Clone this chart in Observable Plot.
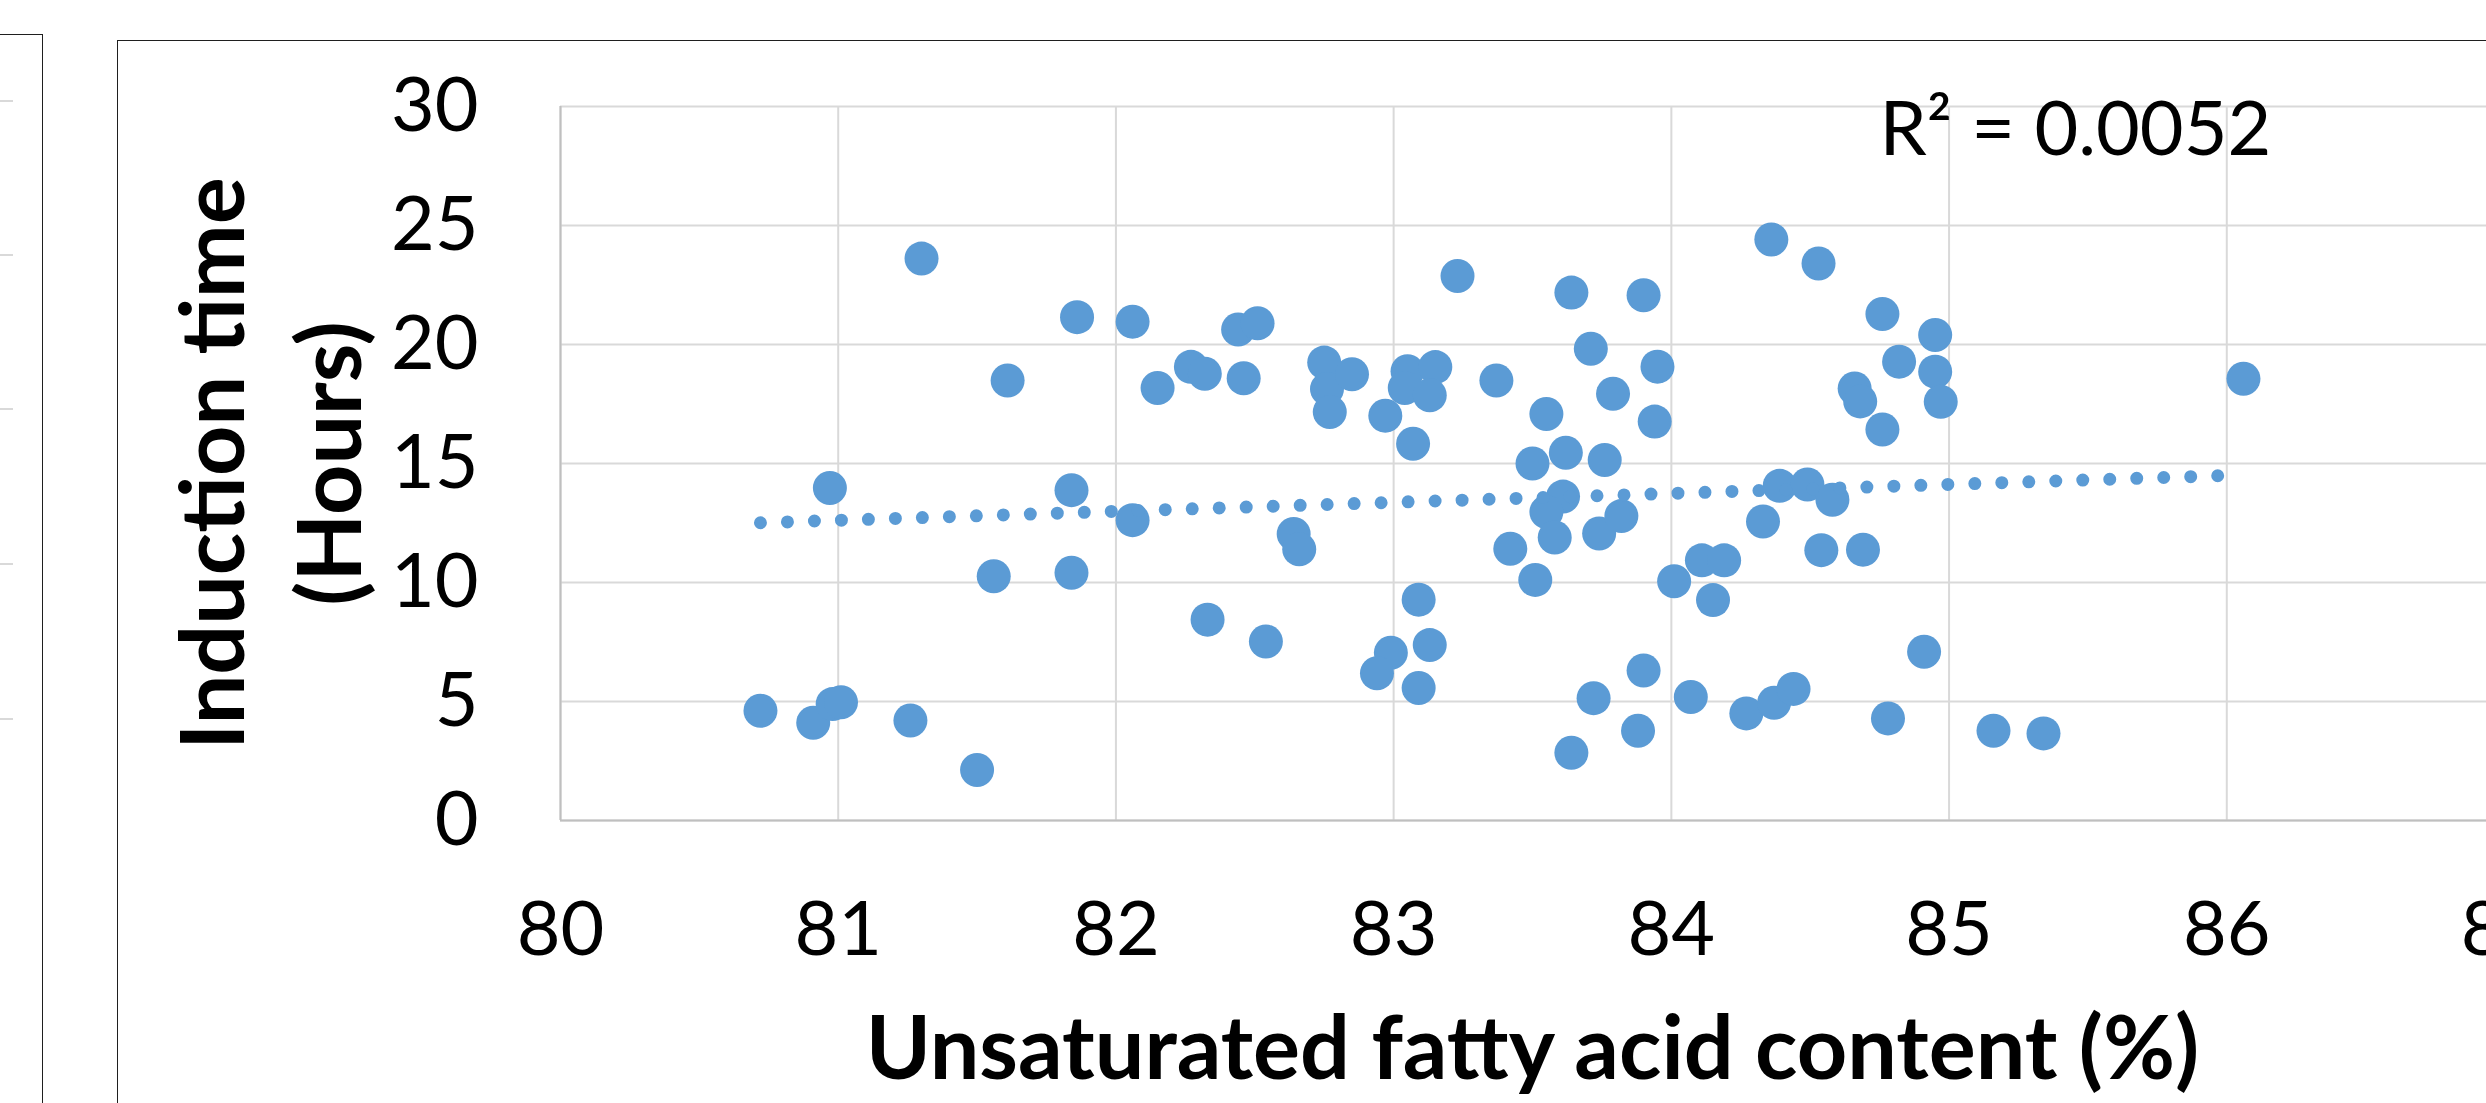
<!DOCTYPE html>
<html>
<head>
<meta charset="utf-8">
<script src="https://cdn.jsdelivr.net/npm/d3@7"></script>
<script src="https://cdn.jsdelivr.net/npm/@observablehq/plot@0.6"></script>
<style>
  html, body { margin: 0; padding: 0; background: #fff; }
  #page { position: relative; width: 2486px; height: 1103px; overflow: hidden; background: #fff; }
  .frame { position: absolute; box-sizing: border-box; border: 1.5px solid #1f1f1f; }
  .stub { position: absolute; left: 0; width: 13px; height: 2px; background: #d9d9d9; }
  #chart { position: absolute; left: 0; top: 0; }
</style>
</head>
<body>
<div id="page">
  <div class="frame" style="left:-20px; top:34px; width:63px; height:1200px;"></div>
  <div class="stub" style="top:100px"></div>
  <div class="stub" style="top:254px"></div>
  <div class="stub" style="top:408px"></div>
  <div class="stub" style="top:563px"></div>
  <div class="stub" style="top:718px"></div>
  <div class="frame" style="left:117px; top:40px; width:2500px; height:1200px;"></div>
  <div id="chart"></div>
</div>
<script>
// Unsaturated fatty acid content (%)
const unsaturatedFat = [
  81.30, 81.86, 82.06, 82.27, 81.61, 82.15, 80.97, 81.84, 82.06, 81.56,
  81.84, 82.33, 80.72, 80.91, 80.98, 81.01, 81.26, 81.50, 82.32, 82.44,
  82.51, 82.46, 82.54, 82.75, 82.76, 82.85, 82.77, 82.64, 82.66, 82.97,
  83.05, 83.04, 83.15, 83.13, 83.07, 83.23, 83.37, 83.09, 82.99, 82.94,
  83.13, 83.09, 83.55, 83.50, 83.62, 83.76, 83.64, 83.71, 83.79, 83.90,
  83.95, 83.94, 83.61, 83.55, 83.58, 83.74, 83.82, 83.42, 83.51, 84.01,
  84.11, 84.19, 84.15, 84.33, 84.39, 84.49, 84.58, 84.54, 84.36, 84.53,
  83.72, 83.90, 83.64, 83.88, 84.07, 84.27, 84.37, 84.44, 84.76, 84.95,
  84.82, 84.95, 84.66, 84.68, 84.97, 84.76, 84.69, 84.91, 84.78, 85.16,
  85.34, 86.06
];
// Induction time (Hours)
const inductionTime = [
  23.61, 21.15, 20.96, 19.06, 18.49, 18.17, 13.97, 13.88, 12.62, 10.26,
  10.41, 8.44, 4.61, 4.11, 4.89, 4.97, 4.20, 2.12, 18.77, 20.63,
  20.89, 18.58, 7.52, 19.24, 18.13, 18.75, 17.16, 12.04, 11.40, 17.01,
  18.88, 18.17, 19.05, 17.87, 15.83, 22.88, 18.49, 9.28, 7.05, 6.19,
  7.37, 5.57, 17.08, 15.00, 15.45, 15.15, 22.18, 19.82, 17.93, 22.07,
  19.07, 16.76, 13.61, 12.96, 11.89, 12.06, 12.79, 11.42, 10.11, 10.05,
  10.93, 10.93, 9.26, 12.56, 14.06, 14.12, 13.48, 11.36, 24.41, 23.40,
  5.14, 6.30, 2.85, 3.77, 5.19, 4.50, 4.95, 5.53, 21.28, 20.40,
  19.28, 18.86, 18.15, 17.61, 17.59, 16.43, 11.38, 7.09, 4.29, 3.77,
  3.66, 18.56
];
// Linear trendline end points
const trendX = [80.72, 86.06];
const trendY = [12.51, 14.52];

const xTicks = [80, 81, 82, 83, 84, 85, 86, 87];
const yTicks = [0, 5, 10, 15, 20, 25, 30];
const xTitle = "Unsaturated fatty acid content (%)";
const yTitle = "Induction time\n(Hours)";
const r2Label = "R\u00b2 = 0.0052";

const points = unsaturatedFat.map((x, i) => ({x, y: inductionTime[i]}));
const trend = trendX.map((x, i) => ({x, y: trendY[i]}));

const blue = "#5B9BD5";
const tickFont = 75.5;
const titleFont = 88;

const chart = Plot.plot({
  width: 2600,
  height: 1103,
  marginLeft: 560,
  marginRight: 96,
  marginTop: 106,
  marginBottom: 283,
  style: {background: "transparent", maxWidth: "none", overflow: "visible", fontFamily: "Lato", fontSize: tickFont + "px", color: "#000"},
  x: {domain: [80, 87]},
  y: {domain: [0, 30]},
  marks: [
    Plot.gridX(xTicks, {stroke: "#d9d9d9", strokeOpacity: 1, strokeWidth: 2}),
    Plot.gridY(yTicks, {stroke: "#d9d9d9", strokeOpacity: 1, strokeWidth: 2}),
    Plot.ruleX([80], {stroke: "#bfbfbf", strokeWidth: 2}),
    Plot.ruleY([0], {stroke: "#bfbfbf", strokeWidth: 2}),
    Plot.axisX({ticks: xTicks, tickSize: 0, tickPadding: 81, label: null, fontSize: tickFont, tickFormat: d => String(d)}),
    Plot.axisY({ticks: yTicks, tickSize: 0, tickPadding: 82, label: null, fontSize: tickFont, tickFormat: d => String(d)}),
    Plot.dot(points, {x: "x", y: "y", r: 17, fill: blue, stroke: "none"}),
    Plot.line(trend, {x: "x", y: "y", stroke: blue, strokeWidth: 13, strokeDasharray: "0 27", strokeLinecap: "round"}),
    Plot.text([xTitle], {text: d => d, frameAnchor: "bottom", dy: 258, lineAnchor: "bottom", fontWeight: "bold", fontSize: titleFont, fill: "#000"}),
    Plot.text([yTitle], {text: d => d, frameAnchor: "left", rotate: -90, dx: -200, textAnchor: "middle", lineAnchor: "bottom", lineHeight: 1.32, fontWeight: "bold", fontSize: titleFont, fill: "#000"}),
    Plot.text([r2Label], {text: d => d, frameAnchor: "top-left", dx: 1319, dy: 48, lineAnchor: "bottom", textAnchor: "start", fontSize: tickFont, fill: "#000"})
  ]
});
document.getElementById("chart").appendChild(chart);
</script>
</body>
</html>
